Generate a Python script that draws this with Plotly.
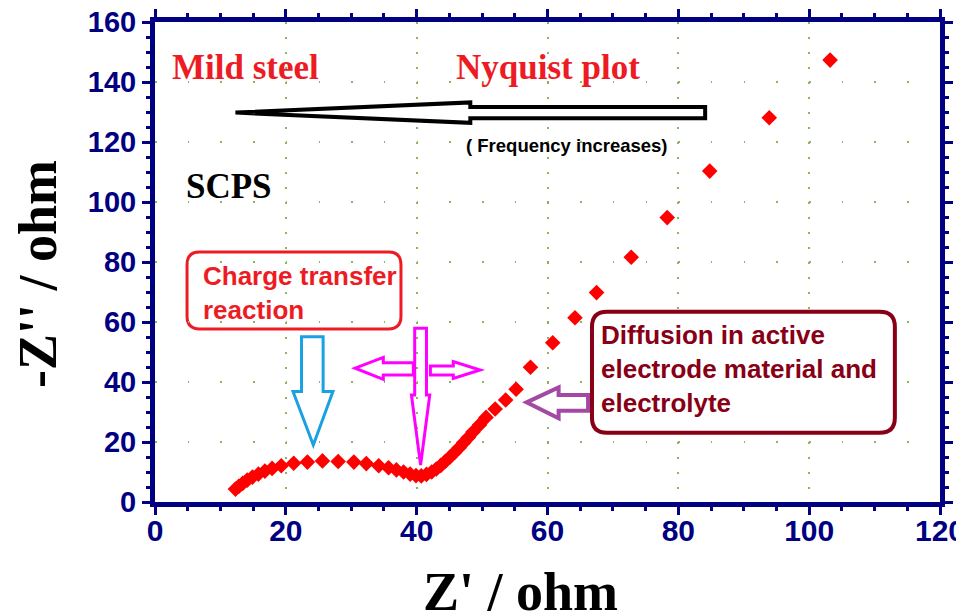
import plotly.graph_objects as go

# Nyquist data (Z' and -Z'' in ohm)
z_real = [12.3, 12.8, 13.4, 14.1, 14.9, 15.8, 16.8, 17.9, 19.3, 21.2, 23.3, 25.6,
          28.0, 30.4, 32.3, 34.2, 35.7, 36.9, 38.0, 39.0, 39.9, 40.7, 41.5, 42.3,
          43.0, 43.7, 44.4, 45.1, 45.8, 46.5, 47.2, 47.9, 48.6, 49.6, 50.6, 52.0,
          53.6, 55.2, 57.4, 60.8, 64.2, 67.5, 72.8, 78.3, 84.8, 93.9, 103.2]
z_imag = [4.3, 5.2, 6.2, 7.3, 8.3, 9.3, 10.3, 11.2, 12.1, 12.9, 13.3, 13.7,
          13.5, 13.3, 12.8, 12.1, 11.4, 10.7, 10.0, 9.3, 8.8, 8.7, 9.2, 10.0,
          11.0, 12.2, 13.6, 15.0, 16.5, 18.1, 19.8, 21.5, 23.3, 25.7, 28.2, 31.0,
          34.0, 37.6, 44.9, 53.1, 61.4, 69.8, 81.6, 94.8, 110.3, 128.1, 147.3]

x_ticks = [0, 20, 40, 60, 80, 100, 120]
y_ticks = [0, 20, 40, 60, 80, 100, 120, 140, 160]

NAVY = "#000080"
SERIF = "Liberation Serif, Times New Roman, serif"
SANS = "Liberation Sans, Arial, sans-serif"


def poly(points):
    return "M " + " L ".join(f"{x},{y}" for x, y in points) + " Z"


def rounded_rect(x0, y0, x1, y1, rx, ry):
    return (f"M {x0 + rx},{y1} L {x1 - rx},{y1} Q {x1},{y1} {x1},{y1 - ry} "
            f"L {x1},{y0 + ry} Q {x1},{y0} {x1 - rx},{y0} L {x0 + rx},{y0} "
            f"Q {x0},{y0} {x0},{y0 + ry} L {x0},{y1 - ry} Q {x0},{y1} {x0 + rx},{y1} Z")


fig = go.Figure()
fig.add_trace(go.Scatter(
    x=z_real, y=z_imag, mode="markers",
    marker=dict(symbol="diamond", size=12, color="#ff0000", line=dict(width=0)),
    showlegend=False,
))

shapes = []
# black frequency arrow (pointing left)
shapes.append(dict(type="path", path=poly([
    (12.3, 129.8), (48.2, 133.2), (48.2, 131.7), (84.1, 131.7),
    (84.1, 127.9), (48.2, 127.9), (48.2, 126.4)]),
    line=dict(color="black", width=4), fillcolor="white"))
# blue down arrow
shapes.append(dict(type="path", path=poly([
    (22.4, 55.1), (25.7, 55.1), (25.7, 36.8), (27.2, 36.8), (24.2, 19.0),
    (21.1, 36.8), (22.4, 36.8)]),
    line=dict(color="#1ba1e2", width=3), fillcolor="rgba(0,0,0,0)"))
# magenta down arrow
shapes.append(dict(type="path", path=poly([
    (39.7, 57.9), (41.5, 57.9), (41.5, 35.7), (42.0, 35.7), (40.6, 12.3),
    (39.2, 35.7), (39.7, 35.7)]),
    line=dict(color="#ff00ff", width=3), fillcolor="rgba(0,0,0,0)"))
# magenta left arrow
shapes.append(dict(type="path", path=poly([
    (30.6, 44.6), (34.9, 48.2), (34.9, 46.4), (39.5, 46.4), (39.5, 42.3),
    (34.9, 42.3), (34.9, 40.9)]),
    line=dict(color="#ff00ff", width=3), fillcolor="rgba(0,0,0,0)"))
# magenta right arrow
shapes.append(dict(type="path", path=poly([
    (42.1, 45.3), (45.6, 45.3), (45.6, 46.8), (49.7, 44.0), (45.6, 41.2),
    (45.6, 42.3), (42.1, 42.3)]),
    line=dict(color="#ff00ff", width=3), fillcolor="rgba(0,0,0,0)"))
# purple left arrow
shapes.append(dict(type="path", path=poly([
    (56.8, 33.2), (61.7, 38.2), (61.7, 35.7), (66.2, 35.7), (66.2, 30.4),
    (61.7, 30.4), (61.7, 27.9)]),
    line=dict(color="#a349a4", width=4), fillcolor="white"))
# boxes
shapes.append(dict(type="path", path=rounded_rect(4.9, 57.7, 37.6, 83.3, 1.9, 4.2),
                   line=dict(color="#ed1c24", width=3), fillcolor="white", layer="below"))
shapes.append(dict(type="path", path=rounded_rect(66.8, 23.1, 113.1, 63.4, 2.3, 5.0),
                   line=dict(color="#880015", width=4), fillcolor="white"))

annotations = [
    dict(x=13.8, y=145, text="<b>Mild steel</b>", font=dict(family=SERIF, size=35, color="#ed1c24")),
    dict(x=60.1, y=145, text="<b>Nyquist plot</b>", font=dict(family=SERIF, size=35, color="#ed1c24")),
    dict(x=11.3, y=105.3, text="<b>SCPS</b>", font=dict(family=SERIF, size=35, color="black")),
    dict(x=63.0, y=118.7, text="<b>( Frequency increases)</b>", font=dict(family=SANS, size=18.5, color="black")),
    dict(x=7.0, y=69.7, text="<b>Charge transfer<br>reaction</b>", xanchor="left", align="left",
         font=dict(family=SANS, size=26, color="#ed1c24")),
    dict(x=67.9, y=44.3, text="<b>Diffusion in active<br>electrode material and<br>electrolyte</b>",
         xanchor="left", align="left", font=dict(family=SANS, size=26, color="#880015")),
    # axis titles
    dict(x=0.466, y=-0.1875, xref="paper", yref="paper", xanchor="center", yanchor="middle",
         text="<b>Z' / ohm</b>", font=dict(family=SERIF, size=54, color="black")),
    dict(x=-0.149, y=0.475, xref="paper", yref="paper", xanchor="center", yanchor="middle",
         text="<b>-Z'' / ohm</b>", textangle=-90, font=dict(family=SERIF, size=54, color="black")),
]
for a in annotations:
    a.setdefault("showarrow", False)

axis_common = dict(
    showline=True, linewidth=5, linecolor=NAVY, mirror="allticks", automargin=False,
    ticks="outside", ticklen=8, tickwidth=3, tickcolor=NAVY, ticklabeloverflow="allow",
    zeroline=False, showgrid=True, gridcolor="#8ab561", gridwidth=1.5,
    minor=dict(dtick=5, ticks="outside", ticklen=4, tickwidth=3, tickcolor=NAVY, showgrid=False),
)

fig.update_layout(
    width=964, height=616,
    margin=dict(l=147, r=32, t=14, b=122),
    plot_bgcolor="white", paper_bgcolor="white",
    xaxis=dict(range=[0, 120], tickvals=x_ticks, griddash="1.5px,13.5px", ticklabelstandoff=-10,
               tickfont=dict(family=SANS, size=30, color=NAVY, weight="bold"), **axis_common),
    yaxis=dict(range=[0, 160], tickvals=y_ticks, griddash="1.5px,31.2px",
               tickfont=dict(family=SANS, size=29, color=NAVY, weight="bold"), **axis_common),
    shapes=shapes, annotations=annotations,
)

fig.write_html("out.html")
